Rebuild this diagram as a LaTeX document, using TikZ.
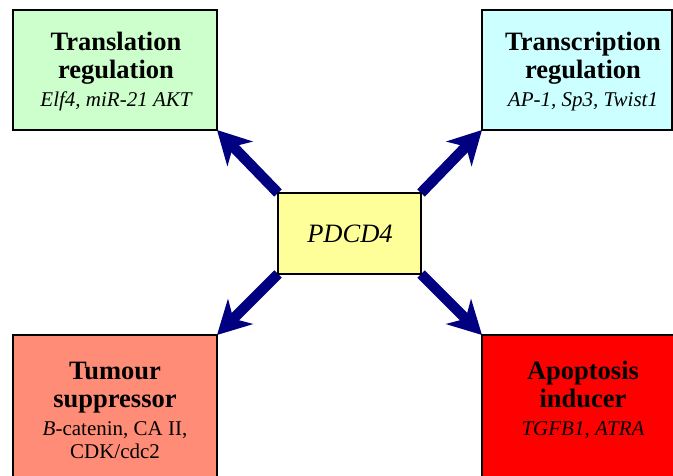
\documentclass[tikz,border=0pt]{standalone}
\usepackage{fontspec}
\setmainfont{Liberation Serif}
\usetikzlibrary{arrows.meta,backgrounds}
\definecolor{tlgreen}{RGB}{204,255,204}
\definecolor{trcyan}{RGB}{204,255,255}
\definecolor{pdyellow}{RGB}{255,255,153}
\definecolor{blsalmon}{RGB}{255,140,118}
\definecolor{brred}{RGB}{255,0,0}
\definecolor{arrnavy}{RGB}{0,0,128}
\begin{document}
\begin{tikzpicture}[x=1pt,y=-1pt,
  box/.style={draw=black,line width=1.3pt,inner sep=0pt,outer sep=0pt},
  label/.style={align=center,inner sep=0pt,font=\fontsize{26.5}{28}\selectfont},
  bigarrow/.style={draw=arrnavy,line width=10.5pt,-{Stealth[length=33pt,width=35pt,inset=10pt]}}]
\useasboundingbox (0,0) rectangle (673,476);
\clip (0,0) rectangle (673,476);
\node[box,fill=tlgreen,minimum width=204pt,minimum height=120pt] (tl) at (115,70) {};
\node[box,fill=trcyan,minimum width=190pt,minimum height=120pt] (tr) at (577,70) {};
\node[box,fill=blsalmon,minimum width=204pt,minimum height=185pt] (bl) at (115,427.5) {};
\node[box,fill=brred,minimum width=208pt,minimum height=185pt] (br) at (586,427.5) {};
\node[box,fill=pdyellow,minimum width=143pt,minimum height=81pt] (pd) at (349.5,233.5) {};
\node[label] (tltext) at (116,72) {\bfseries Translation\\\bfseries regulation\\{\fontsize{21}{24}\selectfont\itshape Elf4, miR-21 AKT}};
\node[label] (trtext) at (583,72) {\bfseries Transcription\\\bfseries regulation\\{\fontsize{21}{24}\selectfont\itshape AP-1, Sp3, Twist1}};
\node[label] (bltext) at (115,410) {\bfseries Tumour\\\bfseries suppressor\\{\fontsize{21}{24}\selectfont\textit{B}-catenin, CA II,}\\[-5pt]{\fontsize{21}{24}\selectfont CDK/cdc2}};
\node[label] (brtext) at (583,399.5) {\bfseries Apoptosis\\\bfseries inducer\\{\fontsize{21}{24}\selectfont\itshape TGFB1, ATRA}};
\node[label] (pdtext) at (350,234) {\itshape PDCD4};
\begin{scope}[on background layer]
\draw[bigarrow] (pd.north west) -- (tl.south east);
\draw[bigarrow] (pd.north east) -- (tr.south west);
\draw[bigarrow] (pd.south west) -- (bl.north east);
\draw[bigarrow] (pd.south east) -- (br.north west);
\end{scope}
\end{tikzpicture}
\end{document}
